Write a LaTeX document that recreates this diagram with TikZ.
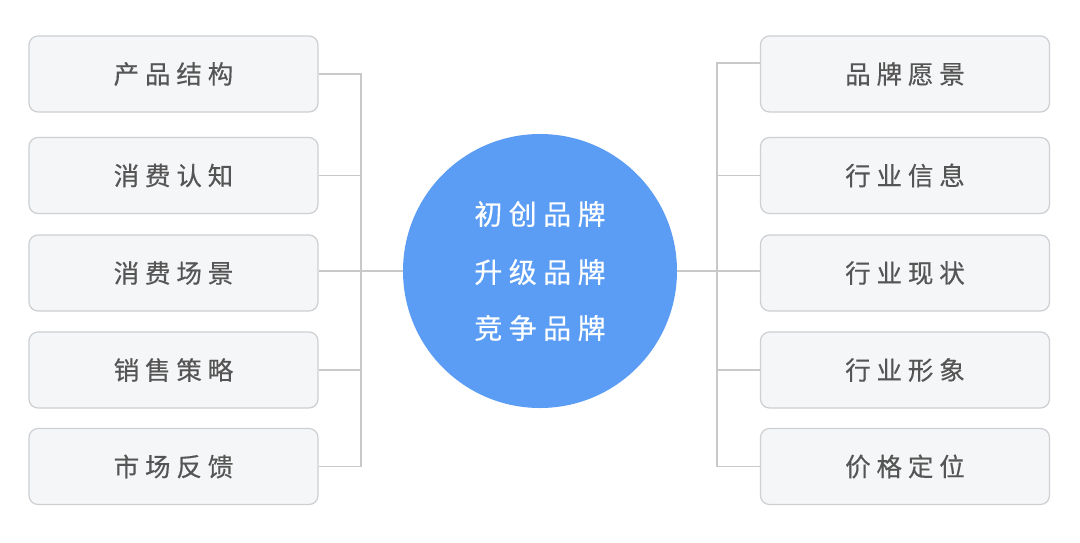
\documentclass[tikz,border=0pt]{standalone}
\usepackage{fontspec}
\newfontfamily\cjk[FakeBold=0.4]{Noto Sans CJK SC}
\usetikzlibrary{calc}
\definecolor{boxfill}{HTML}{F5F6F8}
\definecolor{boxline}{HTML}{CDCFD2}
\definecolor{linec}{HTML}{C9C9C9}
\definecolor{txt}{HTML}{555555}
\definecolor{circ}{HTML}{5B9DF5}
\newcommand{\sq}[4]{#1\hspace{0.23em}#2\hspace{0.23em}#3\hspace{0.23em}#4}
\begin{document}
\begin{tikzpicture}[x=1pt,y=-1pt,
  itembox/.style={draw=boxline, line width=1.2pt, fill=boxfill, rounded corners=9pt,
    minimum width=289pt, minimum height=76pt, inner sep=0pt,
    font=\cjk\fontsize{25.5}{30}\selectfont, text=txt},
  conn/.style={draw=linec, line width=1.4pt},
  hub/.style={circle, fill=circ, minimum size=274pt, inner sep=0pt, text=white,
    align=center, font=\cjk\fontsize{28}{59}\selectfont}]
\useasboundingbox (0,0) rectangle (1080,542);
\fill[white] (0,0) rectangle (1080,542);
% left boxes
\node[itembox] (l1) at (173.5,74) {\sq 产品结构};
\node[itembox] (l2) at (173.5,175.5) {\sq 消费认知};
\node[itembox] (l3) at (173.5,273) {\sq 消费场景};
\node[itembox] (l4) at (173.5,370) {\sq 销售策略};
\node[itembox] (l5) at (173.5,466.5) {\sq 市场反馈};
% right boxes
\node[itembox] (r1) at (905,74) {\sq 品牌愿景};
\node[itembox] (r2) at (905,175.5) {\sq 行业信息};
\node[itembox] (r3) at (905,273) {\sq 行业现状};
\node[itembox] (r4) at (905,370) {\sq 行业形象};
\node[itembox] (r5) at (905,466.5) {\sq 价格定位};
% hub
\node[hub] (c) at (540,271) {\sq 初创品牌\\[-1pt]\sq 升级品牌\\[-3pt]\sq 竞争品牌};
% bus coordinates
\coordinate (lb) at (361,0);
\coordinate (rb) at (717,0);
\coordinate (r1a) at ($(r1.west)+(0,-11)$);
% left connectors
\draw[conn] (l1.east) -- (l1.east -| lb) -- (l5.east -| lb) -- (l5.east);
\draw[conn] (l2.east) -- (l2.east -| lb);
\draw[conn] (l3.east |- c.west) -- (c.west);
\draw[conn] (l4.east) -- (l4.east -| lb);
% right connectors
\draw[conn] (r1a) -- (r1a -| rb) -- (r5.west -| rb) -- (r5.west);
\draw[conn] (r2.west) -- (r2.west -| rb);
\draw[conn] (r4.west) -- (r4.west -| rb);
\draw[conn] (c.east) -- (r3.west |- c.east);
\end{tikzpicture}
\end{document}
